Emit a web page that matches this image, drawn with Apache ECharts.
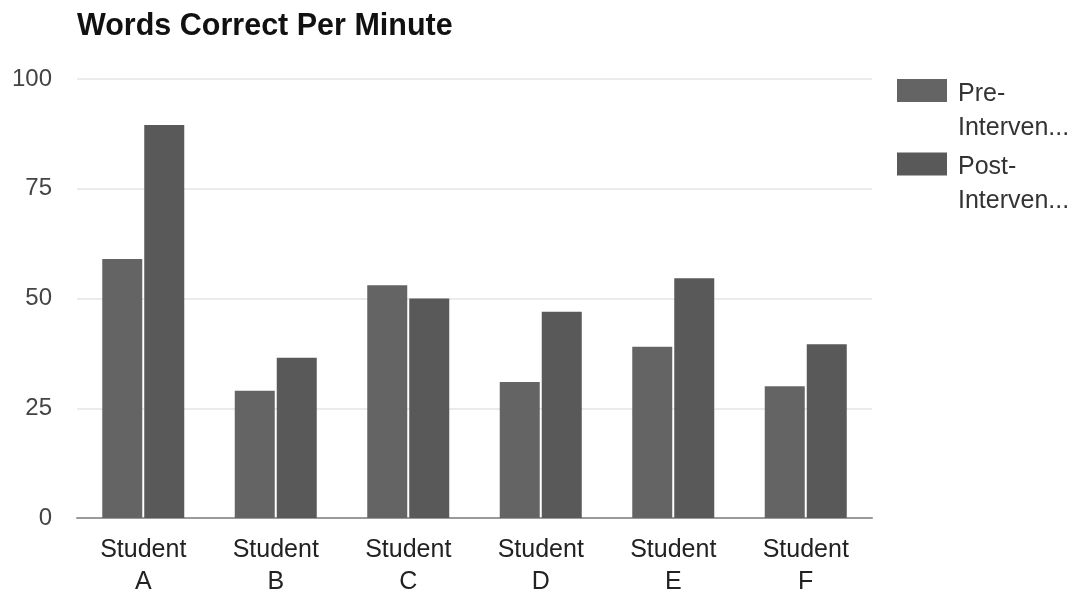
<!DOCTYPE html>
<html>
<head>
<meta charset="utf-8">
<script src="https://cdn.jsdelivr.net/npm/echarts@6/dist/echarts.min.js"></script>
<style>
  html, body { margin: 0; padding: 0; background: #ffffff; }
  #chart { width: 1078px; height: 594px; }
</style>
</head>
<body>
<div id="chart"></div>
<script>
// Words correct per minute, before and after the reading intervention
const students = ['Student\nA', 'Student\nB', 'Student\nC', 'Student\nD', 'Student\nE', 'Student\nF'];
const preIntervention = [59, 29, 53, 31, 39, 30];
const postIntervention = [89.5, 36.5, 50, 47, 54.6, 39.6];
const yTicks = [0, 25, 50, 75, 100];

const FONT = '"Liberation Sans", Arial, sans-serif';

const chart = echarts.init(document.getElementById('chart'));

chart.setOption({
  animation: false,
  backgroundColor: '#ffffff',
  title: {
    text: 'Words Correct Per Minute',
    left: 77,
    top: 11,
    padding: 0,
    textStyle: { fontFamily: FONT, fontSize: 30.5, fontWeight: 'bold', color: '#111111' }
  },
  legend: {
    orient: 'vertical',
    left: 897,
    top: 44,
    padding: 0,
    itemWidth: 50,
    itemHeight: 23,
    itemGap: -23,
    icon: 'rect',
    // an empty first row keeps the first line of the name level with the swatch
    formatter: function (name) {
      return '{s| }\n{t|' + name.split('-')[0] + '-}\n{t|Interven...}';
    },
    textStyle: {
      fontFamily: FONT,
      fontSize: 25,
      color: '#333333',
      rich: {
        s: { fontSize: 25, lineHeight: 41 },
        t: { fontFamily: FONT, fontSize: 25, lineHeight: 34, color: '#333333', padding: [0, 0, 0, 6] }
      }
    },
    data: ['Pre-Intervention', 'Post-Intervention']
  },
  grid: { left: 77, right: 206, top: 79, bottom: 76, containLabel: false, outerBoundsMode: 'none' },
  xAxis: {
    type: 'category',
    data: students,
    axisLine: { lineStyle: { color: '#9a9a9a', width: 2 } },
    axisTick: { show: false },
    axisLabel: {
      fontFamily: FONT,
      fontSize: 25,
      color: '#222222',
      lineHeight: 32,
      margin: 16,
      interval: 0
    }
  },
  yAxis: {
    type: 'value',
    min: yTicks[0],
    max: yTicks[yTicks.length - 1],
    interval: yTicks[1] - yTicks[0],
    axisLine: { show: false },
    axisTick: { show: false },
    splitLine: { lineStyle: { color: '#ebebeb', width: 2 } },
    axisLabel: {
      fontFamily: FONT,
      fontSize: 24,
      color: '#444444',
      margin: 25
    }
  },
  series: [
    {
      name: 'Pre-Intervention',
      type: 'bar',
      data: preIntervention,
      barWidth: 40,
      barGap: '5%',
      itemStyle: { color: '#646464' }
    },
    {
      name: 'Post-Intervention',
      type: 'bar',
      data: postIntervention,
      barWidth: 40,
      itemStyle: { color: '#595959' }
    }
  ]
});
</script>
</body>
</html>
